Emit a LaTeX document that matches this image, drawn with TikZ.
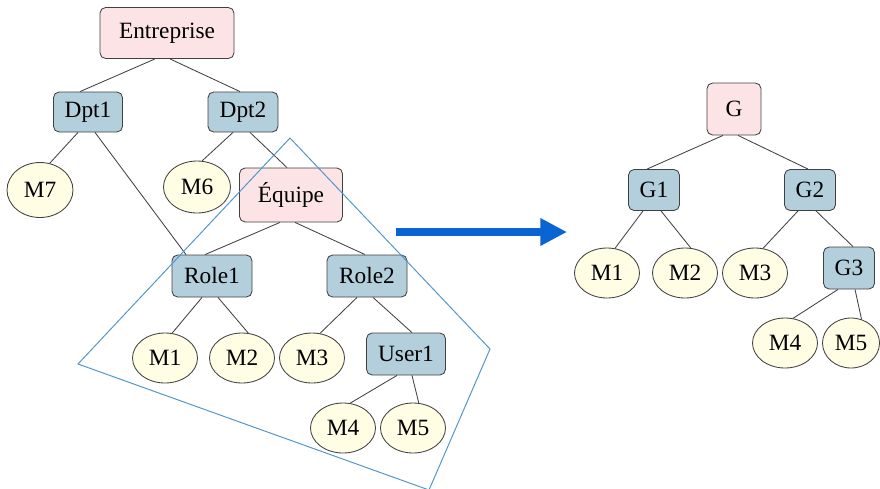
\documentclass[tikz,border=0pt]{standalone}
\usepackage{fontspec}
\setmainfont{Liberation Serif}
\usetikzlibrary{arrows.meta,shapes.geometric}
\definecolor{pinkfill}{RGB}{252,228,230}
\definecolor{bluefill}{RGB}{180,207,220}
\definecolor{creamfill}{RGB}{255,253,228}
\definecolor{nodeline}{RGB}{64,64,64}
\definecolor{polyblue}{RGB}{80,150,205}
\definecolor{arrowblue}{RGB}{10,100,210}
\tikzset{
  base/.style={draw=nodeline, line width=0.6pt, inner sep=0pt, font=\fontsize{16.6}{19}\selectfont},
  pinkbox/.style={base, fill=pinkfill, rounded corners=4pt},
  bluebox/.style={base, fill=bluefill, rounded corners=4pt},
  leaf/.style={base, ellipse, fill=creamfill, minimum width=65*0.025cm, minimum height=50*0.025cm},
  link/.style={draw=black!75, line width=0.6pt},
}
\begin{document}
\begin{tikzpicture}[x=0.025cm, y=-0.025cm]
\useasboundingbox (0,0) rectangle (880,488);
% left tree
\node[pinkbox, minimum width=134*0.025cm, minimum height=51*0.025cm] (ent) at (167,33) {Entreprise};
\node[bluebox, minimum width=69*0.025cm, minimum height=40*0.025cm] (dpt1) at (88,112) {Dpt1};
\node[bluebox, minimum width=70*0.025cm, minimum height=40*0.025cm] (dpt2) at (243,112) {Dpt2};
\node[leaf, minimum width=66*0.025cm, minimum height=55*0.025cm] (m7) at (40,190) {M7};
\node[leaf, minimum width=67*0.025cm, minimum height=52*0.025cm] (m6) at (197,187) {M6};
\node[pinkbox, minimum width=103*0.025cm, minimum height=54*0.025cm] (equ) at (291,195) {Équipe};
\node[bluebox, minimum width=80*0.025cm, minimum height=42*0.025cm] (role1) at (212,276) {Role1};
\node[bluebox, minimum width=80*0.025cm, minimum height=42*0.025cm] (role2) at (367,276) {Role2};
\node[leaf] (lm1) at (165,358) {M1};
\node[leaf] (lm2) at (242,358) {M2};
\node[leaf] (lm3) at (312,358) {M3};
\node[bluebox, minimum width=79*0.025cm, minimum height=42*0.025cm] (user1) at (406,354) {User1};
\node[leaf] (lm4) at (343,428) {M4};
\node[leaf] (lm5) at (413,428) {M5};
\draw[link] ([xshift=-12*0.025cm]ent.south) -- ([xshift=-8*0.025cm]dpt1.north);
\draw[link] ([xshift=3*0.025cm]ent.south) -- ([xshift=-3*0.025cm]dpt2.north);
\draw[link] ([xshift=-10*0.025cm]dpt1.south) -- (m7.70);
\draw[link] ([xshift=7*0.025cm]dpt1.south) -- ([xshift=-26*0.025cm]role1.north);
\draw[link] ([xshift=-10*0.025cm]dpt2.south) -- (m6.79);
\draw[link] ([xshift=7*0.025cm]dpt2.south) -- ([xshift=-4*0.025cm]equ.north);
\draw[link] ([xshift=-11*0.025cm]equ.south) -- ([xshift=-7*0.025cm]role1.north);
\draw[link] ([xshift=4*0.025cm]equ.south) -- ([xshift=-2*0.025cm]role2.north);
\draw[link] ([xshift=-10*0.025cm]role1.south) -- (lm1.74);
\draw[link] ([xshift=6*0.025cm]role1.south) -- (lm2.76);
\draw[link] ([xshift=-10*0.025cm]role2.south) -- (lm3.72);
\draw[link] ([xshift=6*0.025cm]role2.south) -- ([xshift=6*0.025cm]user1.north);
\draw[link] ([xshift=-9*0.025cm]user1.south) -- (lm4.74);
\draw[link] ([xshift=6*0.025cm]user1.south) -- (lm5.77);
% selection polygon
\coordinate (p1) at (290,138);
\coordinate (p2) at (490,349);
\coordinate (p3) at (429,490);
\coordinate (p4) at (78,364);
\draw[polyblue, line width=0.7pt] (p1) -- (p2) -- (p3) -- (p4) -- cycle;
% arrow
\coordinate (a1) at (396,232);
\coordinate (a2) at (567,232);
\draw[arrowblue, line width=5pt, -{Triangle[length=19pt,width=18.5pt]}] (a1) -- (a2);
% right tree
\node[pinkbox, minimum width=54*0.025cm, minimum height=52*0.025cm] (g) at (734,109) {G};
\node[bluebox, minimum width=51*0.025cm, minimum height=41*0.025cm] (g1) at (654,190) {G1};
\node[bluebox, minimum width=51*0.025cm, minimum height=41*0.025cm] (g2) at (810,190) {G2};
\node[leaf] (rm1) at (607,273) {M1};
\node[leaf] (rm2) at (685,273) {M2};
\node[leaf] (rm3) at (755,273) {M3};
\node[bluebox, minimum width=51*0.025cm, minimum height=42*0.025cm] (g3) at (849,268) {G3};
\node[leaf] (rm4) at (785,343) {M4};
\node[leaf, minimum width=57*0.025cm] (rm5) at (851,343) {M5};
\draw[link] ([xshift=-11*0.025cm]g.south) -- ([xshift=-7*0.025cm]g1.north);
\draw[link] ([xshift=4*0.025cm]g.south) -- ([xshift=-2*0.025cm]g2.north);
\draw[link] ([xshift=-11*0.025cm]g1.south) -- (rm1.72);
\draw[link] ([xshift=7*0.025cm]g1.south) -- (rm2.77);
\draw[link] ([xshift=-12*0.025cm]g2.south) -- (rm3.72);
\draw[link] ([xshift=6*0.025cm]g2.south) -- ([xshift=4*0.025cm]g3.north);
\draw[link] ([xshift=-11*0.025cm]g3.south) -- (rm4.72);
\draw[link] ([xshift=6*0.025cm]g3.south) -- (rm5.66);
\end{tikzpicture}
\end{document}
